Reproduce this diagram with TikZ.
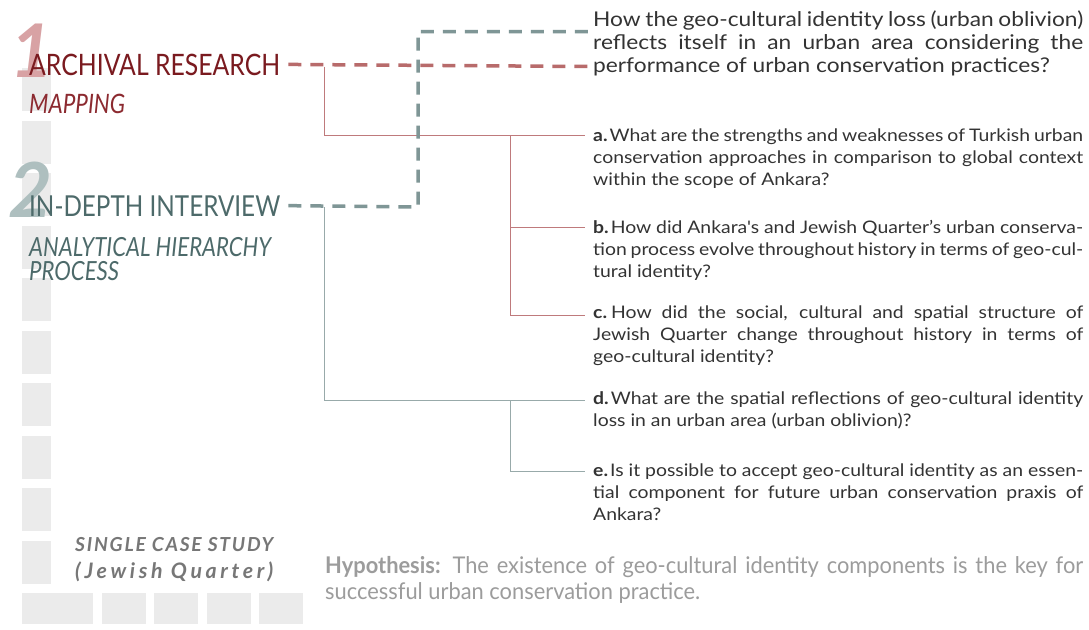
\documentclass[tikz,border=0pt]{standalone}
\usepackage{fontspec}
\setmainfont{Lato}
\newfontfamily\qfont[FakeStretch=1.12]{Lato}
\newfontfamily\condfont[FakeStretch=0.95]{Lato}
\newfontfamily\labfont[FakeStretch=0.84]{Lato}
\newfontfamily\spacedfont[LetterSpace=9]{Lato}
\newfontfamily\widespacedfont[LetterSpace=17]{Lato}
\definecolor{darkred}{HTML}{7A1A1F}
\definecolor{midred}{HTML}{8C2A30}
\definecolor{dashred}{HTML}{B86B6B}
\definecolor{linered}{HTML}{BF7A7C}
\definecolor{darkteal}{HTML}{4D6A6A}
\definecolor{dashteal}{HTML}{7F9696}
\definecolor{lineteal}{HTML}{98AAAA}
\definecolor{sqgrey}{HTML}{EBEBEB}
\definecolor{onepink}{HTML}{D8A2A4}
\definecolor{twoteal}{HTML}{AEBFBF}
\definecolor{qtext}{HTML}{333333}
\definecolor{hyptext}{HTML}{9C9C9C}
\definecolor{casetext}{HTML}{777777}
\newcommand\jline[1]{\makebox[\linewidth][s]{#1}\par}
\tikzset{
  sqbox/.style={fill=sqgrey, draw=none},
  lbl/.style={inner sep=0pt, anchor=base west},
  qnode/.style={inner sep=0pt, anchor=base west, text=qtext},
  reddash/.style={draw=dashred, line width=3.5pt, dash pattern=on 13pt off 9pt},
  tealdash/.style={draw=dashteal, line width=3.5pt, dash pattern=on 13pt off 9pt},
  redline/.style={draw=linered, line width=1pt},
  tealline/.style={draw=lineteal, line width=1pt}
}
\begin{document}
\begin{tikzpicture}[x=1pt,y=-1pt]
\useasboundingbox[fill=white] (0,0) rectangle (1089,629);
% grey squares column
\foreach \t in {68,121,173,226,278,331,383,436,488,541}
  \fill[sqgrey] (22,\t) rectangle (51,\t+43);
\fill[sqgrey] (22,593) rectangle (93,624);
\foreach \l in {102,154,207,259}
  \fill[sqgrey] (\l,593) rectangle (\l+44,624);
% numerals
\node[lbl, text=onepink] (n1) at (10,77) {\fontsize{74}{74}\selectfont\bfseries\itshape 1};
\node[lbl, text=twoteal] (n2) at (8,217) {\fontsize{76}{76}\selectfont\bfseries\itshape 2};
% labels
\node[lbl, text=darkred] (ar) at (29,75) {\resizebox{251pt}{!}{\labfont\fontsize{26}{26}\selectfont ARCHIVAL RESEARCH}};
\node[lbl, text=midred] (mp) at (29,113) {\resizebox{96pt}{!}{\labfont\fontsize{20}{20}\selectfont\itshape MAPPING}};
\node[lbl, text=darkteal] (id) at (29,216) {\resizebox{251pt}{!}{\labfont\fontsize{26}{26}\selectfont IN-DEPTH INTERVIEW}};
\node[lbl, text=darkteal] (ah) at (29,256) {\resizebox{242pt}{!}{\labfont\fontsize{20}{20}\selectfont\itshape ANALYTICAL HIERARCHY}};
\node[lbl, text=darkteal] (pr) at (29,280) {\resizebox{90pt}{!}{\labfont\fontsize{20}{20}\selectfont\itshape PROCESS}};
\node[lbl, text=casetext] (sc) at (75,551) {\resizebox{198pt}{!}{\spacedfont\fontsize{16}{16}\selectfont\bfseries\itshape SINGLE CASE STUDY}};
\node[lbl, text=casetext] (jq) at (75,578) {\resizebox{198pt}{!}{\widespacedfont\fontsize{16}{16}\selectfont\bfseries\itshape (Jewish Quarter)}};
% main question
\node[qnode] (mq) at (593,27) {\parbox[t]{490pt}{\qfont\fontsize{20.3}{22.5}\selectfont
\jline{How the geo-cultural identity loss (urban oblivion)}
\jline{reflects itself in an urban area considering the}
performance of urban conservation practices?}};
% sub questions
\node[qnode] (qa) at (593,141) {\parbox[t]{490pt}{\qfont\fontsize{17.3}{22.3}\selectfont
\jline{\textbf{a.}\hspace{2pt}What are the strengths and weaknesses of Turkish urban}
\jline{conservation approaches in comparison to global context}
within the scope of Ankara?}};
\node[qnode] (qb) at (593,233) {\parbox[t]{490pt}{\qfont\fontsize{17.3}{22.3}\selectfont
\jline{\textbf{b.}\hspace{2pt}How did Ankara's and Jewish Quarter’s urban conserva-}
\jline{tion process evolve throughout history in terms of geo-cul-}
tural identity?}};
\node[qnode] (qc) at (593,318) {\parbox[t]{490pt}{\qfont\fontsize{17.3}{22.3}\selectfont
\jline{\textbf{c.}\hspace{4pt}How did the social, cultural and spatial structure of}
\jline{Jewish Quarter change throughout history in terms of}
geo-cultural identity?}};
\node[qnode] (qd) at (593,404) {\parbox[t]{490pt}{\qfont\fontsize{17.3}{22.3}\selectfont
\jline{\textbf{d.}\hspace{2pt}What are the spatial reflections of geo-cultural identity}
loss in an urban area (urban oblivion)?}};
\node[qnode] (qe) at (593,476) {\parbox[t]{490pt}{\qfont\fontsize{17.3}{22.3}\selectfont
\jline{\textbf{e.}\hspace{2pt}Is it possible to accept geo-cultural identity as an essen-}
\jline{tial component for future urban conservation praxis of}
Ankara?}};
% hypothesis
\node[qnode, text=hyptext] (hy) at (325,573) {\parbox[t]{758pt}{\condfont\fontsize{23}{26}\selectfont
\jline{\textbf{Hypothesis:} The existence of geo-cultural identity components is the key for}
successful urban conservation practice.}};
% connector coordinates
\coordinate (redend) at (588,66.5);
\coordinate (tealend) at (588,31.5);
\coordinate (tealknee) at (418,207);
\coordinate (tealtop) at (418,31.5);
\coordinate (r0) at (324,66.5);
\coordinate (r1) at (324,135);
\coordinate (ra) at (585,135);
\coordinate (rv) at (510,135);
\coordinate (rb0) at (510,227);
\coordinate (rb) at (585,227);
\coordinate (rc0) at (510,315);
\coordinate (rc) at (585,315);
\coordinate (t0) at (324,207);
\coordinate (t1) at (324,400);
\coordinate (td) at (585,400);
\coordinate (te0) at (510,471);
\coordinate (te) at (585,471);
\coordinate (tv) at (510,400);
% thin tree lines
\draw[redline] (r0) -- (r1) -- (ra);
\draw[redline] (rv) -- (rc0) -- (rc);
\draw[redline] (rb0) -- (rb);
\draw[tealline] (t0) -- (t1) -- (td);
\draw[tealline] (tv) -- (te0) -- (te);
% dashed connectors
\draw[reddash] ([xshift=8pt]ar.east) -- (redend);
\draw[tealdash] ([xshift=8pt]id.east) -- (tealknee) -- (tealtop) -- (tealend);
\end{tikzpicture}
\end{document}
